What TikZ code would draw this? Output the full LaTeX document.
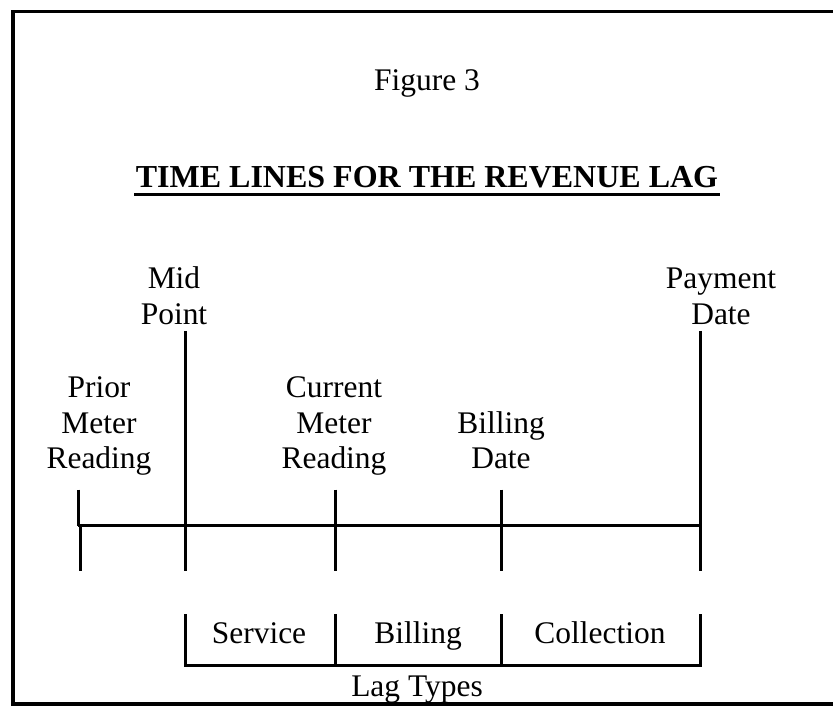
\documentclass[tikz,border=0pt]{standalone}
\usepackage{fontspec}
\setmainfont{Liberation Serif}

\tikzset{every picture/.style={line width=2.25pt}}
\tikzset{lbl/.style={anchor=base,inner sep=0pt,align=center,font=\fontsize{23.6}{27}\selectfont}}

\begin{document}
\begin{tikzpicture}[x=0.75pt,y=0.75pt,yscale=-1,xscale=1]
    \useasboundingbox (0,0) rectangle (833,706);

    %Shape: Frame
    \draw [line width=2.8pt] (13,11.5) rectangle (850,704) ;

    %Points on the time line
    \foreach \n/\x/\t in {mid/185/331, current/335/489.5, billing/501/489.5, payment/700/331} {
        \coordinate (\n) at (\x,525.5);
        \coordinate (\n top) at (\x,\t);
        \coordinate (\n bot) at (\x,571);
    }
    \coordinate (prior) at (78,525.5);
    \coordinate (prior top) at (78,489.5);
    \coordinate (prior low) at (80,525.5);
    \coordinate (prior bot) at (80,571);

    %Straight Lines
    \draw    (prior) -- (payment) ;
    \draw    (prior top) -- (prior) ;
    \draw    (prior low) -- (prior bot) ;
    \foreach \n in {mid,current,billing,payment} {
        \draw    (\n top) -- (\n bot) ;
    }

    %Lag bracket
    \coordinate (lag a) at (185,614);
    \coordinate (lag b) at (335,614);
    \coordinate (lag c) at (501,614);
    \coordinate (lag d) at (700,614);
    \coordinate (lag a1) at (185,665);
    \coordinate (lag b1) at (335,665);
    \coordinate (lag c1) at (501,665);
    \coordinate (lag d1) at (700,665);
    \draw    (lag a) -- (lag a1) -- (lag d1) -- (lag d) ;
    \draw    (lag b) -- (lag b1) ;
    \draw    (lag c) -- (lag c1) ;

    % Text Node
    \node [lbl] (fig) at (427,90.5) {Figure 3};
    % Text Node
    \node [lbl,font=\fontsize{24}{27}\selectfont\bfseries] (title) at (427,188) {TIME LINES FOR THE REVENUE LAG};
    \draw [line width=2.4pt] ([yshift=4.9pt]title.base west) -- ([yshift=4.9pt]title.base east) ;
    % Text Node
    \node [lbl] (midlbl) at (174,325) {Mid\\Point};
    % Text Node
    \node [lbl] (paylbl) at (721,325) {Payment\\Date};
    % Text Node
    \node [lbl] (priorlbl) at (99,469) {Prior\\Meter\\Reading};
    % Text Node
    \node [lbl] (curlbl) at (334,469) {Current\\Meter\\Reading};
    % Text Node
    \node [lbl] (billlbl) at (501,469) {Billing\\Date};
    % Text Node
    \node [lbl] (service) at (259,643.5) {Service};
    % Text Node
    \node [lbl] (billing) at (418,643.5) {Billing};
    % Text Node
    \node [lbl] (collection) at (600,643.5) {Collection};
    % Text Node
    \node [lbl] (lagtypes) at (417,696.5) {Lag Types};

\end{tikzpicture}
\end{document}
